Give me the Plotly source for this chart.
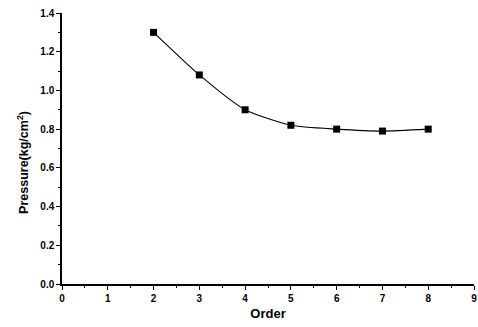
import plotly.graph_objects as go

# Measured pressure per order
order = [2, 3, 4, 5, 6, 7, 8]
pressure = [1.30, 1.08, 0.90, 0.82, 0.80, 0.79, 0.80]

x_ticks = [0, 1, 2, 3, 4, 5, 6, 7, 8, 9]
y_ticks = [0.0, 0.2, 0.4, 0.6, 0.8, 1.0, 1.2, 1.4]

FONT = "Liberation Sans, Arial, sans-serif"

fig = go.Figure(
    go.Scatter(
        x=order,
        y=pressure,
        mode="lines+markers",
        line=dict(color="black", width=1.1, shape="spline", smoothing=0.6),
        marker=dict(symbol="square", size=7, color="black"),
        showlegend=False,
    )
)

axis_common = dict(
    showgrid=False,
    zeroline=False,
    showline=True,
    linecolor="black",
    linewidth=1.5,
    ticks="outside",
    ticklen=4,
    tickwidth=1.2,
    tickcolor="black",
    tickfont=dict(family=FONT, size=10, color="black", weight="bold"),
    minor=dict(ticks="outside", ticklen=2, tickwidth=1, tickcolor="black"),
    mirror=False,
    automargin=False,
)

fig.update_xaxes(
    **axis_common,
    range=[0, 9],
    tickvals=x_ticks,
    ticktext=[str(v) for v in x_ticks],
    minor_dtick=0.5,
    title=dict(text="Order", font=dict(family=FONT, size=13, color="black", weight="bold"), standoff=6),
)
fig.update_yaxes(
    **axis_common,
    range=[0, 1.4],
    tickvals=y_ticks,
    ticktext=[f"{v:.1f}" for v in y_ticks],
    minor_dtick=0.1,
)

# Y-axis title placed slightly below the axis midpoint
fig.add_annotation(
    text="Pressure(kg/cm<sup>2</sup>)",
    textangle=-90,
    xref="paper", yref="paper",
    x=-0.095, y=0.45,
    xanchor="center", yanchor="middle",
    showarrow=False,
    font=dict(family=FONT, size=12.5, color="black", weight="bold"),
)

fig.update_layout(
    width=478,
    height=327,
    margin=dict(l=62, r=4, t=13, b=43),
    paper_bgcolor="white",
    plot_bgcolor="white",
)

fig.write_html("out.html")
